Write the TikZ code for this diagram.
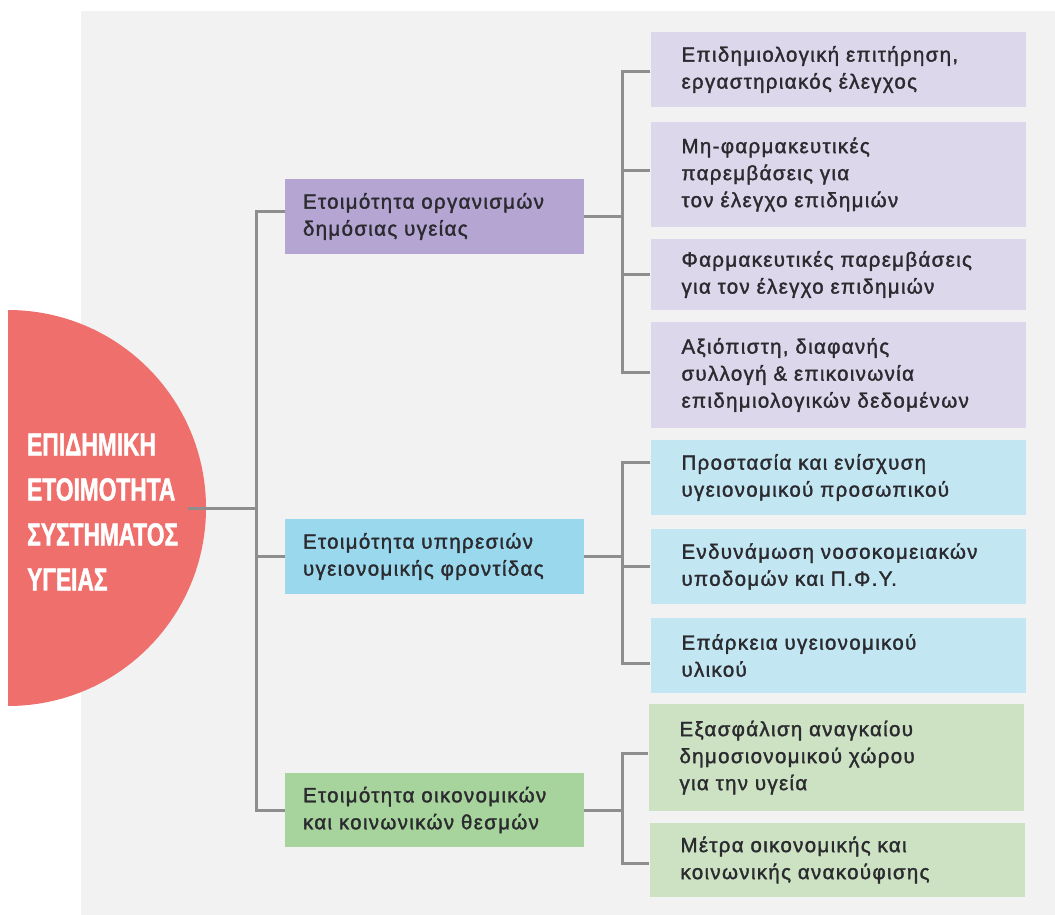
\documentclass[tikz,border=0pt]{standalone}
\usepackage{fontspec}
\setmainfont[LetterSpace=6.5, FakeBold=1.6]{Liberation Sans}
\newfontfamily\headfont[FakeStretch=0.71, FakeBold=1.4]{Liberation Sans}
\definecolor{bggray}{HTML}{F2F2F2}
\definecolor{rootred}{HTML}{EF6F6C}
\definecolor{linegray}{HTML}{8E8E8E}
\definecolor{ink}{HTML}{2A2A2F}
\definecolor{orgdark}{HTML}{B4A5D2}
\definecolor{orglight}{HTML}{DDD7EB}
\definecolor{svcdark}{HTML}{9AD8ED}
\definecolor{svclight}{HTML}{C3E6F3}
\definecolor{ecodark}{HTML}{A7D39C}
\definecolor{ecolight}{HTML}{CCE2C3}

\begin{document}
\begin{tikzpicture}[
  x=1pt, y=-1pt,
  every node/.style={font=\fontsize{20.5}{27}\selectfont, text=ink},
  link/.style={draw=linegray, line width=3pt},
  headbox/.style={rectangle, minimum width=299pt, text width=263pt,
    inner xsep=18pt, inner ysep=0pt, align=left},
  itembox/.style={rectangle, minimum width=375pt, text width=313pt,
    inner xsep=31pt, inner ysep=0pt, align=left}
]
  \useasboundingbox (0,0) rectangle (1055,915);
  \fill[bggray] (81,11) rectangle (1055,915);

  %% ---- root half-disc ----
  \begin{scope}
    \clip (8,0) rectangle (400,915);
    \node (root) [circle, fill=rootred, minimum size=396pt, inner sep=0pt] at (8,508) {};
  \end{scope}
  \node (roottext) [anchor=west, align=left, text=white, inner sep=0pt,
    font=\headfont\bfseries\fontsize{32}{45}\selectfont] at (27,512)
    {ΕΠΙΔΗΜΙΚΗ\\ΕΤΟΙΜΟΤΗΤΑ\\ΣΥΣΤΗΜΑΤΟΣ\\ΥΓΕΙΑΣ};

  %% ---- second level ----
  \node (org) [headbox, fill=orgdark, minimum height=75pt] at (434.5,216.5)
    {Ετοιμότητα οργανισμών\\δημόσιας υγείας};
  \node (svc) [headbox, fill=svcdark, minimum height=75pt] at (434.5,556.5)
    {Ετοιμότητα υπηρεσιών\\υγειονομικής φροντίδας};
  \node (eco) [headbox, fill=ecodark, minimum height=74pt] at (434.5,810)
    {Ετοιμότητα οικονομικών\\και κοινωνικών θεσμών};

  %% ---- third level ----
  \node (p1) [itembox, fill=orglight, minimum height=75pt] at (838,69.5)
    {Επιδημιολογική επιτήρηση,\\εργαστηριακός έλεγχος};
  \node (p2) [itembox, fill=orglight, minimum height=105pt] at (838,174.5)
    {Μη-φαρμακευτικές\\παρεμβάσεις για\\τον έλεγχο επιδημιών};
  \node (p3) [itembox, fill=orglight, minimum height=71pt] at (838,274.5)
    {Φαρμακευτικές παρεμβάσεις\\για τον έλεγχο επιδημιών};
  \node (p4) [itembox, fill=orglight, minimum height=106pt] at (838,375)
    {Αξιόπιστη, διαφανής\\συλλογή \& επικοινωνία\\επιδημιολογικών δεδομένων};

  \node (b1) [itembox, fill=svclight, minimum height=75pt] at (838,477.5)
    {Προστασία και ενίσχυση\\υγειονομικού προσωπικού};
  \node (b2) [itembox, fill=svclight, minimum height=75pt] at (838,566.5)
    {Ενδυνάμωση νοσοκομειακών\\υποδομών και Π.Φ.Υ.};
  \node (b3) [itembox, fill=svclight, minimum height=75pt] at (838,655.5)
    {Επάρκεια υγειονομικού\\υλικού};

  \node (g1) [itembox, fill=ecolight, minimum height=107pt] at (836,757.5)
    {Εξασφάλιση αναγκαίου\\δημοσιονομικού χώρου\\για την υγεία};
  \node (g2) [itembox, fill=ecolight, minimum height=74pt] at (837,860)
    {Μέτρα οικονομικής και\\κοινωνικής ανακούφισης};

  %% ---- connectors ----
  \coordinate (hub) at (256,508);
  \coordinate (orgfork) at (622,216.5);
  \coordinate (svcfork) at (622,556.5);
  \coordinate (ecofork) at (622,810);

  \draw[link] ([xshift=-18pt]root.east) -- (hub);
  \draw[link] ([yshift=5pt]org.west) -| (hub) |- (eco.west);
  \draw[link] (hub |- svc.west) -- (svc.west);

  \draw[link] (org.east) -- (orgfork);
  \draw[link] ([yshift=-2pt]p1.west) -| (orgfork) |- ([yshift=3pt]p4.west);
  \draw[link] ([yshift=4pt]orgfork |- p2.west) -- ([yshift=4pt]p2.west);
  \draw[link] (orgfork |- p3.west) -- (p3.west);

  \draw[link] (svc.east) -- (svcfork);
  \draw[link] ([yshift=15pt]b1.west) -| (svcfork) |- ([yshift=-8pt]b3.west);
  \draw[link] (svcfork |- b2.west) -- (b2.west);

  \draw[link] (eco.east) -- (ecofork);
  \draw[link] ([yshift=4pt]g1.west) -| (ecofork) |- ([yshift=-3pt]g2.west);

\end{tikzpicture}
\end{document}
